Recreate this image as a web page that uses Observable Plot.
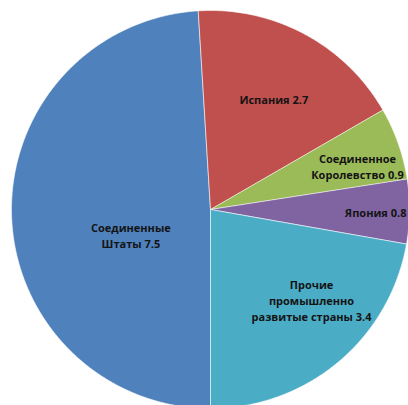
<!DOCTYPE html>
<html>
<head>
<meta charset="utf-8">
<script src="https://cdn.jsdelivr.net/npm/d3@7"></script>
<script src="https://cdn.jsdelivr.net/npm/@observablehq/plot@0.6"></script>
<style>
  html, body { margin: 0; padding: 0; background: #ffffff; }
  #chart { width: 408px; height: 405px; overflow: hidden; }
</style>
</head>
<body>
<div id="chart"></div>
<script>
// ---- data ----
const categories = ["Соединенные Штаты", "Испания", "Соединенное Королевство", "Япония", "Прочие промышленно развитые страны"];
const labelLines = ["Соединенные\nШтаты", "Испания", "Соединенное\nКоролевство", "Япония", "Прочие\nпромышленно\nразвитые страны"];
const values = [7.5, 2.7, 0.9, 0.8, 3.4];
const colors = ["#4F81BD", "#C0504D", "#9BBB59", "#8064A2", "#4BACC6"];

// ---- layout (not data) ----
const R = 199;
// label placement in polar form: angle (deg, clockwise from top) and radius fraction
const labelPolar = [
  {angle: 252.3, frac: 0.42},
  {angle: 29.8, frac: 0.64},
  {angle: 73.6, frac: 0.77},
  {angle: 91.0, frac: 0.83},
  {angle: 131.7, frac: 0.68}
];

const table = categories.map((c, i) => ({category: c, value: values[i], label: labelLines[i] + " " + values[i]}));
const arcs = d3.pie().value(d => d.value).sort(null).startAngle(Math.PI).endAngle(3 * Math.PI)(table);

const features = arcs.map(a => {
  const ring = [[0, 0]];
  const n = Math.max(8, Math.ceil((a.endAngle - a.startAngle) / (Math.PI / 360)));
  for (let k = 0; k <= n; k++) {
    const t = a.startAngle + (a.endAngle - a.startAngle) * k / n;
    ring.push([R * Math.sin(t), -R * Math.cos(t)]);
  }
  ring.push([0, 0]);
  return {type: "Feature", properties: {category: a.data.category}, geometry: {type: "Polygon", coordinates: [ring]}};
});

const labelData = table.map((d, i) => {
  const t = labelPolar[i].angle * Math.PI / 180;
  const rr = labelPolar[i].frac * R;
  return {...d, x: rr * Math.sin(t), y: -rr * Math.cos(t)};
});

const chart = Plot.plot({
  width: 408,
  height: 405,
  margin: 0,
  style: {background: "#ffffff"},
  projection: {
    type: "identity",
    domain: {type: "MultiPoint", coordinates: [[-210, -209], [198, 196]]}
  },
  color: {domain: categories, range: colors},
  marks: [
    Plot.geo(features, {
      fill: d => d.properties.category,
      stroke: "#ffffff",
      strokeWidth: 0.7,
      strokeOpacity: 0.8
    }),
    Plot.text(labelData, {
      x: "x",
      y: "y",
      text: "label",
      fill: "#141414",
      fontSize: 11,
      fontWeight: "bold",
      fontFamily: "Open Sans",
      lineHeight: 1.45
    })
  ]
});

document.getElementById("chart").appendChild(chart);
</script>
</body>
</html>
